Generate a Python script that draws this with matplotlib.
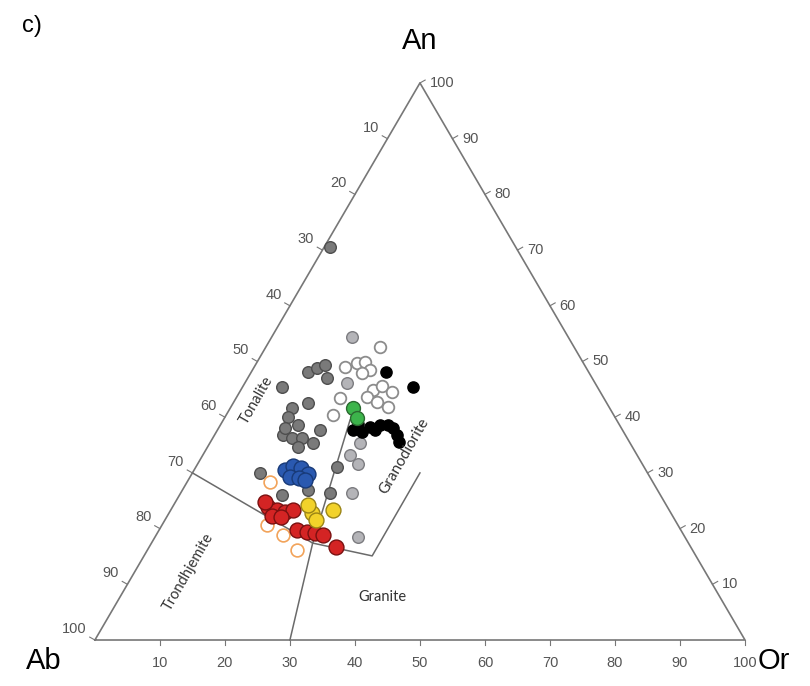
# An-Ab-Or ternary diagram (Barker 1979 fields)
import numpy as np
import matplotlib
matplotlib.use("Agg")
import matplotlib.pyplot as plt

plt.rcParams['font.family'] = ['Liberation Sans', 'DejaVu Sans']

# data: (An, Or) in %, Ab = 100 - An - Or
gray_an = [70.6, 45.4, 48.1, 48.8, 49.4, 47.0, 41.7, 40.0, 38.6, 36.8, 36.3, 36.3,
           34.6, 35.4, 42.5, 37.7, 30.0, 26.9, 26.4, 31.1, 38.1, 26.0]
gray_or = [0.9, 6.1, 8.7, 9.8, 10.7, 12.2, 9.5, 9.7, 11.9, 10.5, 12.2, 13.7,
           13.9, 15.8, 11.5, 15.7, 10.4, 19.3, 23.0, 21.7, 10.2, 15.8]

light_an = [54.4, 33.2, 31.6, 26.4, 18.5, 35.4, 46.1]
light_or = [12.3, 22.6, 24.7, 26.3, 31.2, 23.1, 15.7]

open_an = [52.6, 49.0, 49.7, 49.9, 48.5, 44.9, 45.6, 43.6, 42.7, 41.8, 43.4, 40.4, 47.9, 44.5]
open_or = [17.5, 14.0, 15.4, 16.6, 18.1, 20.4, 21.4, 20.0, 22.0, 24.2, 16.0, 16.4, 17.2, 23.4]

black_an = [48.1, 45.4, 37.7, 37.3, 38.2, 38.6, 38.6, 38.1, 36.8, 35.5, 38.8, 37.7]
black_or = [20.8, 26.2, 20.8, 22.4, 23.2, 24.5, 25.8, 26.8, 28.1, 29.1, 21.1, 24.2]

green_an = [41.7, 39.9]
green_or = [18.9, 20.4]

orange_an = [28.4, 20.6, 16.2, 18.9]
orange_or = [12.7, 16.2, 23.0, 19.5]

blue_an = [30.5, 31.2, 30.9, 29.8, 29.3, 29.1, 28.7]
blue_or = [14.0, 14.9, 16.3, 17.9, 15.4, 16.9, 17.9]

red_an = [23.9, 23.3, 23.0, 23.3, 22.3, 22.1, 19.7, 19.4, 19.2, 18.9, 16.7, 24.8]
red_or = [14.7, 16.3, 17.7, 18.8, 16.1, 17.6, 21.3, 22.9, 24.2, 25.7, 28.8, 13.8]

yellow_an = [22.8, 23.3, 24.2, 21.5]
yellow_or = [22.0, 24.9, 20.7, 23.2]

# field boundaries (An, Or)
line_a = [(30, 0), (17.4, 24.8)]
line_b = [(0, 30), (17.4, 24.8), (39.5, 19.5)]
line_c = [(17.4, 24.8), (15.1, 35.1), (30, 35)]

ticks = [10, 20, 30, 40, 50, 60, 70, 80, 90, 100]

H = np.sqrt(3) / 2


def tern(an, orr):
    an = np.asarray(an, float)
    orr = np.asarray(orr, float)
    return orr + an / 2, an * H


fig = plt.figure(figsize=(8.1, 6.86), dpi=100)
ax = fig.add_axes([0, 0, 1, 1])
ax.set_xlim(-14.6, 110.0)
ax.set_ylim(-7.15, 99.5)
ax.axis('off')

# triangle
tx, ty = tern([0, 0, 100, 0], [0, 100, 0, 0])
ax.plot(tx, ty, color='#777777', lw=1.2, zorder=1)

# boundaries
for ln in (line_a, line_b, line_c):
    bx, by = tern([p[0] for p in ln], [p[1] for p in ln])
    ax.plot(bx, by, color='#6a6a6a', lw=1.1, zorder=1)

tick_col = '#555555'
for v in ticks:
    # bottom axis (Or)
    x, y = tern(0, v)
    ax.plot([x, x], [y, y - 0.8], color='#777777', lw=0.8)
    ax.text(x, -3.6, str(v), ha='center', va='center', fontsize=10.5, color=tick_col)
    # left edge (Ab)
    x, y = tern(100 - v, 0)
    ax.plot([x, x - 0.8], [y, y + 0.45], color='#777777', lw=0.8)
    ax.annotate(str(v), (x, y), xytext=(-6, 8), textcoords='offset points',
                ha='right', va='center', fontsize=10.5, color=tick_col)
    # right edge (An)
    x, y = tern(v, 100 - v)
    ax.plot([x, x + 0.8], [y, y + 0.45], color='#777777', lw=0.8)
    ax.annotate(str(v), (x, y), xytext=(7, 0), textcoords='offset points',
                ha='left', va='center', fontsize=10.5, color=tick_col)

# points
def pts(an, orr, **kw):
    x, y = tern(an, orr)
    ax.scatter(x, y, zorder=3, **kw)

pts(open_an, open_or, s=70, c='white', edgecolors='#8c8c8c', linewidths=1.3)
pts(gray_an, gray_or, s=70, c='#7a7a7a', edgecolors='#4e4e4e', linewidths=1.0)
pts(light_an, light_or, s=70, c='#b4b4b8', edgecolors='#7c7c80', linewidths=1.0)
pts(black_an, black_or, s=65, c='black', edgecolors='black', linewidths=1.0)
pts(green_an, green_or, s=100, c='#3cb44b', edgecolors='#2a6a30', linewidths=1.0)
pts(orange_an, orange_or, s=85, c='white', edgecolors='#f2a35a', linewidths=1.2)
pts(blue_an, blue_or, s=115, c='#2a59b0', edgecolors='#183a78', linewidths=1.0)
pts(red_an, red_or, s=115, c='#d42424', edgecolors='#7a1010', linewidths=1.0)
pts(yellow_an, yellow_or, s=115, c='#f2d22a', edgecolors='#9a8416', linewidths=1.0)

# field names
fld = ['Lato', 'DejaVu Sans']
x, y = tern(43.0, 3.3)
ax.text(x, y, 'Tonalite', rotation=60, ha='center', va='center', fontsize=10.5,
        color='#333333', family=fld)
x, y = tern(33.0, 31.0)
ax.text(x, y, 'Granodiorite', rotation=60, ha='center', va='center', fontsize=11,
        color='#333333', family=fld)
x, y = tern(12.2, 8.3)
ax.text(x, y, 'Trondhjemite', rotation=60, ha='center', va='center', fontsize=10.5,
        color='#333333', family=fld)
x, y = tern(7.7, 40.4)
ax.text(x, y, 'Granite', ha='center', va='center', fontsize=10.5,
        color='#333333', family=fld)

# corner labels
x, y = tern(100, 0)
ax.annotate('An', (x, y), xytext=(0, 30), textcoords='offset points',
            ha='center', va='center', fontsize=21)
ax.text(-7.8, -3.2, 'Ab', ha='center', va='center', fontsize=21)
ax.text(104.5, -3.2, 'Or', ha='center', va='center', fontsize=21)
fig.text(32 / 810, 1 - 26 / 686, 'c)', ha='center', va='center', fontsize=17)

fig.savefig('out.png', dpi=100)
